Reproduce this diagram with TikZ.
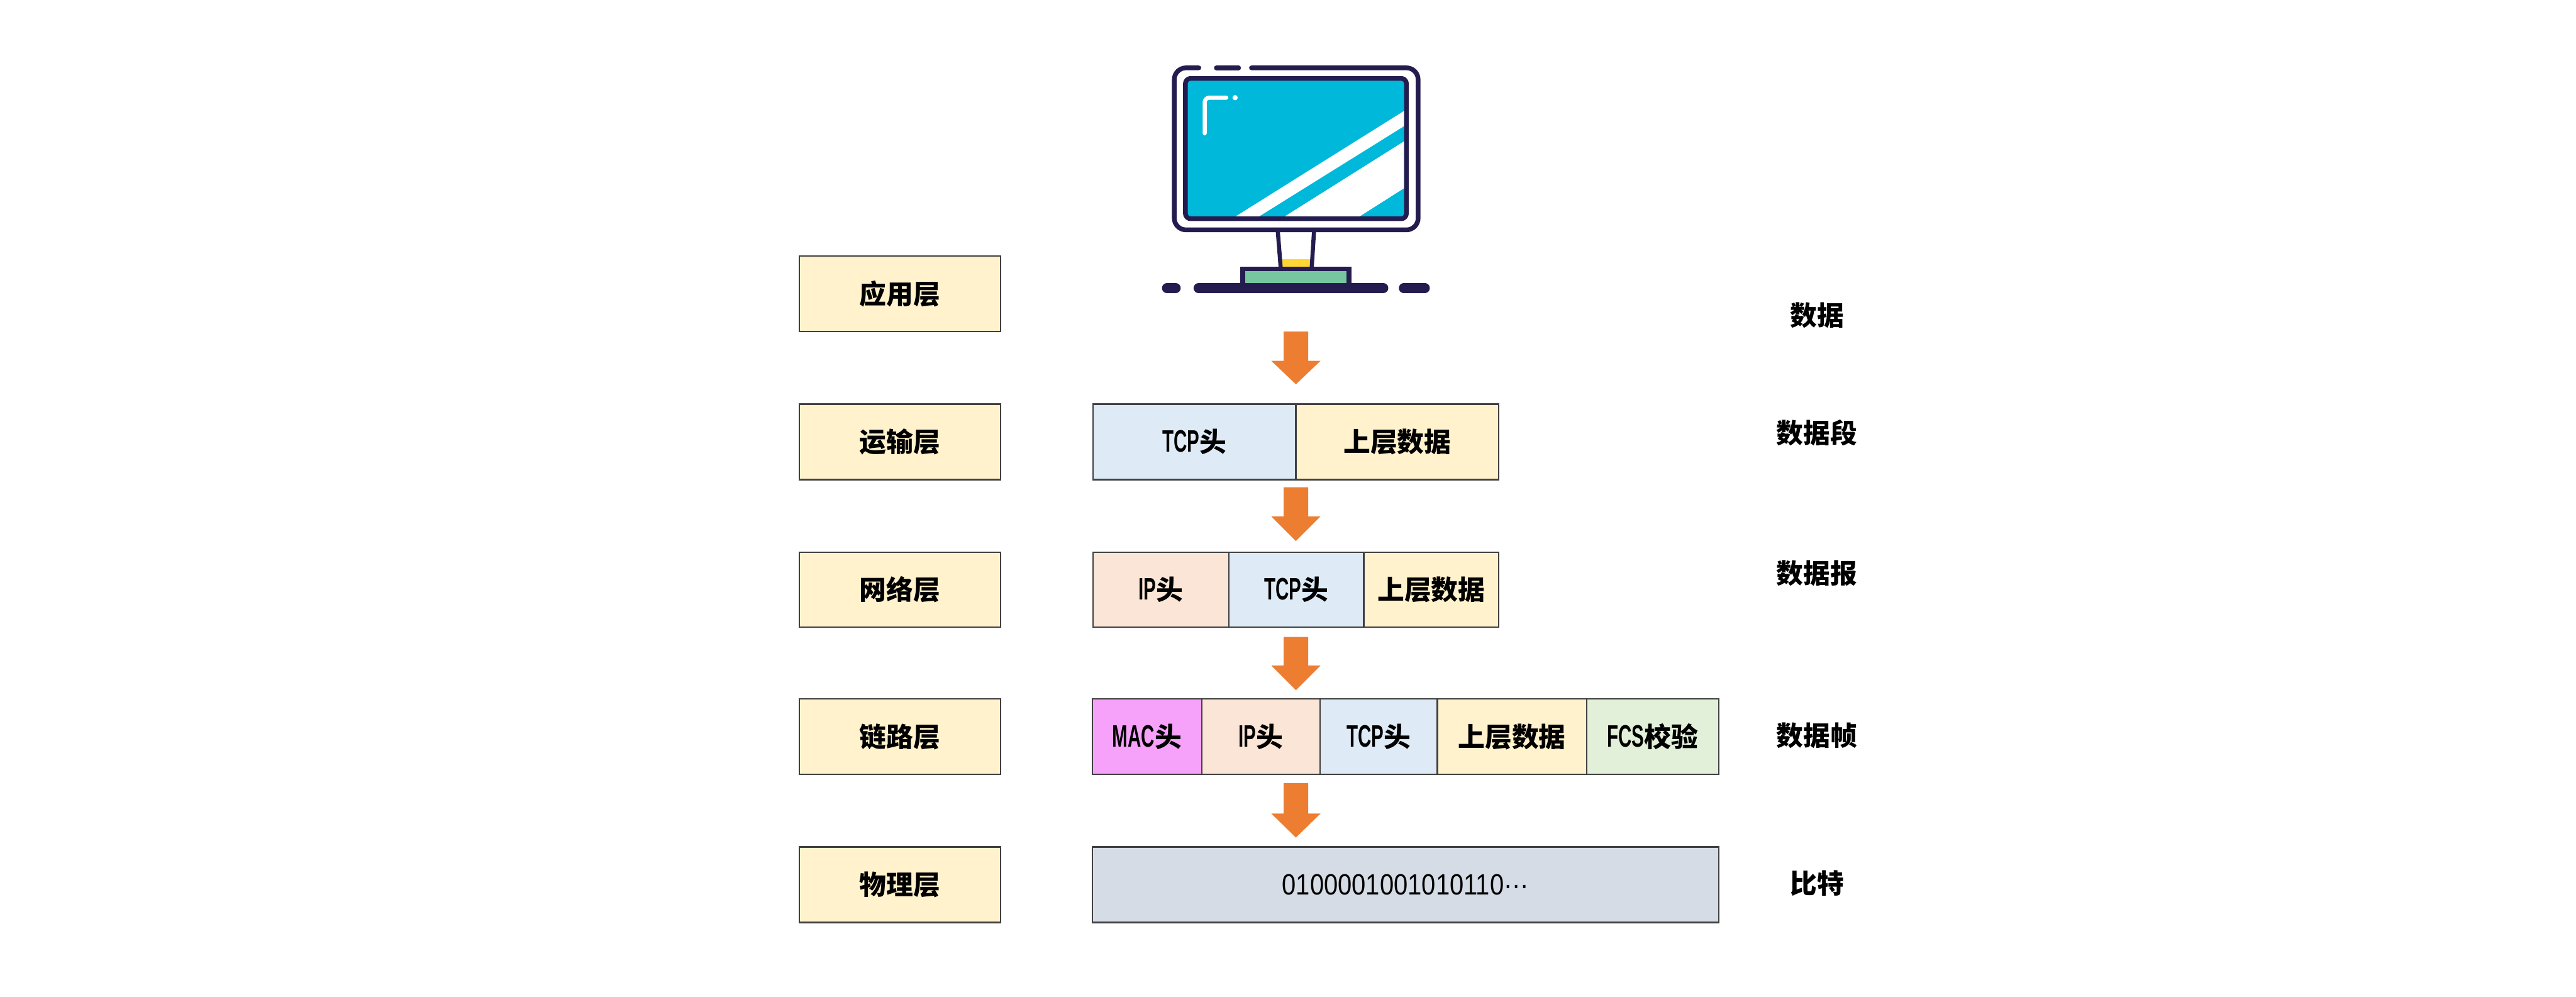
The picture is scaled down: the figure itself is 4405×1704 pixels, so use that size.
\documentclass[tikz,border=0pt]{standalone}
\usepackage{fontspec}
\setmainfont{Noto Sans CJK SC}
\newfontfamily\latn{Liberation Sans}[FakeStretch=0.6]
\newfontfamily\bits{Liberation Sans}[FakeStretch=0.86]
\newcommand{\tx}{\fontsize{46}{50}\selectfont\bfseries}
\newcommand{\la}[1]{{\fontsize{53}{50}\selectfont\latn #1}}
\definecolor{ylw}{HTML}{FFF2CC}
\definecolor{blu}{HTML}{DEEBF7}
\definecolor{pch}{HTML}{FBE5D6}
\definecolor{pnk}{HTML}{F6A2FA}
\definecolor{grn}{HTML}{E2F0D9}
\definecolor{gry}{HTML}{D6DCE5}
\definecolor{org}{HTML}{ED7D31}
\definecolor{ink}{HTML}{241C4F}
\definecolor{scr}{HTML}{00B8D9}
\definecolor{lim}{HTML}{76C79F}
\definecolor{gld}{HTML}{FFD633}
\tikzset{
  cell/.style={draw=black!75,line width=2.4pt,inner sep=0pt,font=\tx},
  caption/.style={inner sep=0pt,font=\tx},
  flow/.style={fill=org,draw=none},
  mon/.style={draw=ink,line width=8pt,line cap=round,line join=round},
  glint/.style={draw=white,line width=7pt,line cap=round},
}
\newcommand{\cellbox}[6]{\node[cell,fill=#6,minimum width={(#3-#2)*1pt},minimum height={(#5-#4)*1pt}] (#1) at ({(#2+#3)/2},{(#4+#5)/2}) {\strut};}
\begin{document}
\begin{tikzpicture}[x=1pt,y=-1pt]
\useasboundingbox (0,0) rectangle (4405,1704);
\fill[white] (0,0) rectangle (4405,1704);
% monitor
\fill[scr] (2027,134) rectangle (2405,374);
\begin{scope}
\clip (2027,134) rectangle (2401,370);
\fill[white] (2113,370) -- (2153,370) -- (2410,210) -- (2410,184) -- cycle;
\fill[white] (2197,370) -- (2325,370) -- (2410,316) -- (2410,236) -- cycle;
\end{scope}
\draw[mon,rounded corners=9pt] (2027,134) rectangle (2405,374);
\draw[mon,rounded corners=20pt] (2050,116) -- (2008,116) -- (2008,393) -- (2425,393) -- (2425,116) -- (2140,116);
\draw[mon] (2080,116) -- (2118,116);
\draw[glint,rounded corners=8pt] (2060,228) -- (2060,167) -- (2097,167);
\fill[white] (2112,167) circle (4.5);
\fill[gld] (2192,443) rectangle (2241,456);
\draw[ink,line width=7pt] (2185,395) -- (2190,458);
\draw[ink,line width=7pt] (2247,395) -- (2243,458);
\draw[ink,line width=8pt,fill=lim] (2125,460) rectangle (2307,488);
\draw[ink,line width=17pt,line cap=round] (2049.5,492.5) -- (2365.5,492.5);
\draw[ink,line width=17pt,line cap=round] (1995.5,492.5) -- (2010.5,492.5);
\draw[ink,line width=17pt,line cap=round] (2400.5,492.5) -- (2436.5,492.5);
% layer column
\cellbox{app}{1367}{1711}{438}{567}{ylw}
\cellbox{trn}{1367}{1711}{691}{820}{ylw}
\cellbox{net}{1367}{1711}{944}{1072}{ylw}
\cellbox{lnk}{1367}{1711}{1195}{1324}{ylw}
\cellbox{phy}{1367}{1711}{1448}{1577}{ylw}
\node[caption] at (app) {应用层};
\node[caption] at (trn) {运输层};
\node[caption] at (net) {网络层};
\node[caption] at (lnk) {链路层};
\node[caption] at (phy) {物理层};
% transport row
\cellbox{t1}{1869}{2216}{691}{820}{blu}
\cellbox{t2}{2216}{2563}{691}{820}{ylw}
\node[caption] at (t1) {\la{TCP}头};
\node[caption] at (t2) {上层数据};
% network row
\cellbox{n1}{1869}{2101}{944}{1072}{pch}
\cellbox{n2}{2101}{2332}{944}{1072}{blu}
\cellbox{n3}{2332}{2563}{944}{1072}{ylw}
\node[caption] at (n1) {\la{IP}头};
\node[caption] at (n2) {\la{TCP}头};
\node[caption] at (n3) {上层数据};
% link row
\cellbox{l1}{1868}{2055}{1195}{1324}{pnk}
\cellbox{l2}{2055}{2257}{1195}{1324}{pch}
\cellbox{l3}{2257}{2458}{1195}{1324}{blu}
\cellbox{l4}{2458}{2713}{1195}{1324}{ylw}
\cellbox{l5}{2713}{2939}{1195}{1324}{grn}
\node[caption] at (l1) {\la{MAC}头};
\node[caption] at (l2) {\la{IP}头};
\node[caption] at (l3) {\la{TCP}头};
\node[caption] at (l4) {上层数据};
\node[caption] at (l5) {\la{FCS}校验};
% physical row
\cellbox{p1}{1868}{2939}{1448}{1577}{gry}
\node[inner sep=0pt] at (p1) {\fontsize{50}{54}\selectfont\bits 0100001001010110···};
% arrows
\foreach \cx/\t/\n/\e in {2216/567/617/657,2216/833/883/925,2216/1089/1138/1180,2216/1339/1391/1432}{
  \fill[flow] (\cx-21,\t) -- (\cx+21,\t) -- (\cx+21,\n) -- (\cx+42,\n) -- (\cx,\e) -- (\cx-42,\n) -- (\cx-21,\n) -- cycle;
}
% right captions
\node[caption] at (3107,539) {数据};
\node[caption] at (3107,740) {数据段};
\node[caption] at (3107,980) {数据报};
\node[caption] at (3107,1258) {数据帧};
\node[caption] at (3107,1510) {比特};
\end{tikzpicture}
\end{document}
